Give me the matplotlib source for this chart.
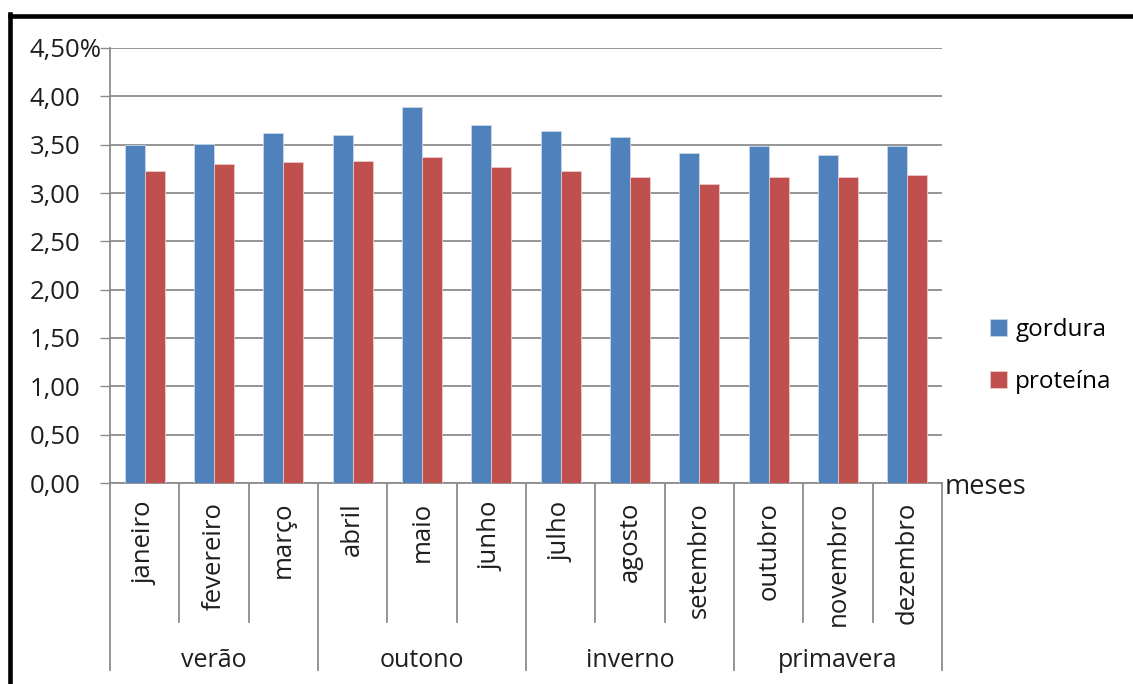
import matplotlib
matplotlib.use('Agg')
import matplotlib.pyplot as plt
import matplotlib.transforms as mtransforms
from matplotlib.lines import Line2D
import numpy as np

plt.rcParams['font.family'] = ['Open Sans', 'DejaVu Sans']

BLUE = '#4F81BD'
RED = '#C0504D'
GRID = '#8C8C8C'
INK = '#1E1E1E'

months = ['janeiro', 'fevereiro', 'março', 'abril', 'maio', 'junho',
          'julho', 'agosto', 'setembro', 'outubro', 'novembro', 'dezembro']
seasons = ['verão', 'outono', 'inverno', 'primavera']
gordura = [3.50, 3.51, 3.62, 3.60, 3.89, 3.70, 3.64, 3.58, 3.41, 3.49, 3.39, 3.49]
proteina = [3.23, 3.30, 3.32, 3.33, 3.37, 3.27, 3.23, 3.17, 3.09, 3.17, 3.17, 3.19]
yticks = [0.0, 0.5, 1.0, 1.5, 2.0, 2.5, 3.0, 3.5, 4.0, 4.5]

W, H = 1133, 684
fig = plt.figure(figsize=(W / 100, H / 100), dpi=100, facecolor='white')
ax = fig.add_axes([110 / W, 1 - 483 / H, (942 - 110) / W, (483 - 48) / H])

x = np.arange(len(months))
bw = 0.29
b1 = ax.bar(x - bw / 2, gordura, bw, color=BLUE, edgecolor='#C9D7EA', linewidth=0.6,
            label='gordura', zorder=3)
b2 = ax.bar(x + bw / 2, proteina, bw, color=RED, edgecolor='#EBC9C8', linewidth=0.6,
            label='proteína', zorder=3)

ax.set_xlim(-0.5, len(months) - 0.5)
ax.set_ylim(0, 4.5)
ax.set_yticks(yticks)
ax.set_yticklabels([f'{v:.2f}'.replace('.', ',') + ('%' if v == 4.5 else '') for v in yticks],
                   ha='left')
ax.yaxis.grid(True, color=GRID, linewidth=1.3, zorder=0)
ax.tick_params(axis='y', length=7.2, width=1, color=GRID, pad=50.4,
               labelsize=18.5, labelcolor=INK)

ax.set_xticks(x)
ax.set_xticklabels(months, rotation=90)
ax.tick_params(axis='x', length=0, pad=13.5, labelsize=18.5, labelcolor=INK)

for side in ['top', 'right']:
    ax.spines[side].set_visible(False)
for side in ['left', 'bottom']:
    ax.spines[side].set_color(GRID)
    ax.spines[side].set_linewidth(1.3)

# category dividers below the axis
trans = mtransforms.blended_transform_factory(ax.transData, ax.transAxes)
for i in range(len(months) + 1):
    xb = i - 0.5
    y_end = -0.43 if i % 3 == 0 else -0.32
    ax.add_line(Line2D([xb, xb], [0, y_end], transform=trans, color=GRID,
                       linewidth=1.3, clip_on=False))

for k, s in enumerate(seasons):
    ax.text(3 * k + 1, -0.409, s, transform=trans, ha='center', va='center',
            fontsize=18, color=INK)

fig.text(945 / W, 1 - 487 / H, 'meses', ha='left', va='center', fontsize=19.5, color=INK)

fig.legend(handles=[b1, b2], loc='center left', bbox_to_anchor=(980 / W, 1 - 356 / H),
           frameon=False, fontsize=17.5, handlelength=0.7, handleheight=0.7,
           handletextpad=0.35, labelspacing=1.12, borderaxespad=0)

# frame lines
fig.add_artist(Line2D([9.5 / W, 9.5 / W], [0, 1 - 14 / H], transform=fig.transFigure,
                      color='black', linewidth=3.3, solid_capstyle='projecting'))
fig.add_artist(Line2D([9.5 / W, 1], [1 - 16 / H, 1 - 16 / H], transform=fig.transFigure,
                      color='black', linewidth=3.3, solid_capstyle='projecting'))

fig.savefig('out.png', dpi=100, facecolor='white')
